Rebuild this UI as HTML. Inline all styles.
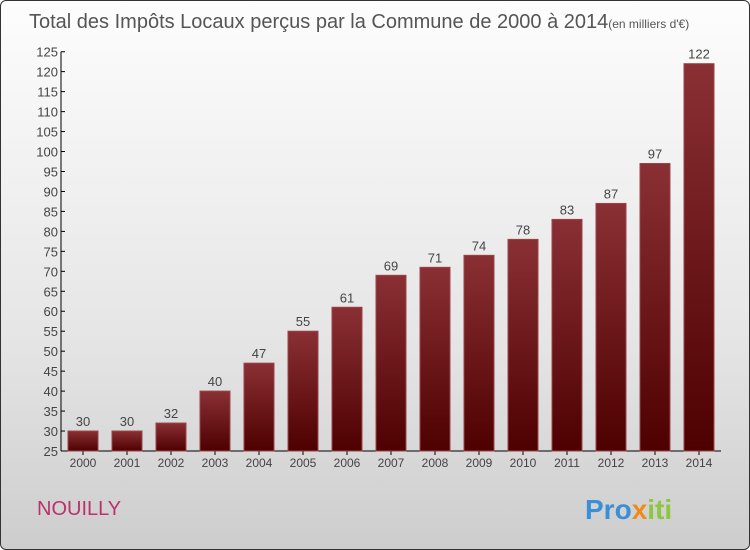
<!DOCTYPE html>
<html><head><meta charset="utf-8"><style>
body{margin:0;width:750px;height:550px;overflow:hidden;font-family:"Liberation Sans",sans-serif}
#frame{position:absolute;left:0;top:0;width:748px;height:548px;border:1px solid #333;border-radius:6px;background:linear-gradient(#fdfdfd,#e6e6e6 60%,#cdcdcd);overflow:hidden}
</style></head><body>
<div id="frame">
<svg width="750" height="550">
<defs><linearGradient id="bg" x1="0" y1="0" x2="0" y2="1"><stop offset="0" stop-color="#8a3035"/><stop offset="1" stop-color="#4e0000"/></linearGradient></defs>
<text x="28" y="27" font-size="20" fill="#555">Total des Impôts Locaux perçus par la Commune de 2000 à 2014<tspan font-size="12">(en milliers d'€)</tspan></text>
<g id="axes"></g><g id="bars"></g>
<text x="36" y="514" font-size="20" fill="#b8336a">NOUILLY</text>
<text x="584" y="518" font-size="28" font-weight="bold"><tspan fill="#3a8fd6">Pro</tspan><tspan fill="#f08a1c">x</tspan><tspan fill="#8dc63f">iti</tspan></text>
</svg></div>
<script>
const years=["2000","2001","2002","2003","2004","2005","2006","2007","2008","2009","2010","2011","2012","2013","2014"];
const values=[30,30,32,40,47,55,61,69,71,74,78,83,87,97,122];
const ticks=[25,30,35,40,45,50,55,60,65,70,75,80,85,90,95,100,105,110,115,120,125];
const NS="http://www.w3.org/2000/svg";
const y=v=>450-(v-25)*3.993;
const x=i=>82+i*44;
function mk(t,a,p,txt){const e=document.createElementNS(NS,t);for(const k in a)e.setAttribute(k,a[k]);if(txt!==undefined)e.textContent=txt;p.appendChild(e);return e;}
const ax=document.getElementById('axes'),bg=document.getElementById('bars');
let l=mk('line',{x1:60,y1:y(125),x2:60,y2:450,stroke:'#000'},ax);


l=mk('line',{x1:60,y1:450,x2:720,y2:450,stroke:'#000'},ax);


ticks.forEach(t=>{
 mk('line',{x1:60,y1:y(t),x2:64,y2:y(t),stroke:'#000'},ax);
 const e=mk('text',{x:57,y:y(t)+5,'font-size':13,fill:'#444','text-anchor':'end'},ax,t);
 
 
});
years.forEach((yr,i)=>{
 mk('line',{x1:x(i),y1:450,x2:x(i),y2:454,stroke:'#000'},ax);
 const e=mk('text',{x:x(i),y:466,'font-size':12,fill:'#444','text-anchor':'middle'},ax,yr);
 
 
 const r=mk('rect',{x:x(i)-15,y:y(values[i]),width:30,height:450-y(values[i]),fill:'url(#bg)',stroke:'#9a4448','stroke-width':1},bg);
 
 
 const v=mk('text',{x:x(i),y:y(values[i])-5,'font-size':13,fill:'#444','text-anchor':'middle'},bg,values[i]);
 
 
});
</script>
</body></html>
